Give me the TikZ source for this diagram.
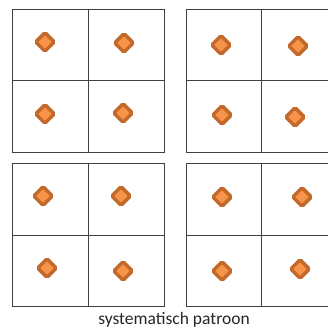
\documentclass[tikz,border=0pt]{standalone}
\usepackage{fontspec}
\setmainfont{Carlito}
\usetikzlibrary{shapes.geometric}
\definecolor{ruitrand}{HTML}{C3692C}
\definecolor{ruitvul}{HTML}{F7944A}
\tikzset{
  vak/.style         = {draw=black!75, line width=0.9pt},
  ruit/.style        = {diamond, draw=ruitrand, fill=ruitvul, line width=3.5pt,
                        rounded corners=1.5pt, inner sep=0pt,
                        minimum width=20pt, minimum height=20pt},
  onderschrift/.style = {font=\fontsize{17.5}{20}\selectfont, text=black!85, inner sep=0pt},
}
\begin{document}
\begin{tikzpicture}[x=1pt,y=-1pt]
  \useasboundingbox (0,0) rectangle (328,328);
  % vier rasters van 2x2 vakken
  \draw[vak] (12,9) rectangle (164,152);
  \draw[vak] (88,9) -- (88,152);
  \draw[vak] (12,80) -- (164,80);
  \draw[vak] (186,9) rectangle (338,152);
  \draw[vak] (261,9) -- (261,152);
  \draw[vak] (186,80) -- (338,80);
  \draw[vak] (12,163) rectangle (164,306);
  \draw[vak] (88,163) -- (88,306);
  \draw[vak] (12,235) -- (164,235);
  \draw[vak] (186,163) rectangle (338,306);
  \draw[vak] (261,163) -- (261,306);
  \draw[vak] (186,235) -- (338,235);

  % ruiten, steeds bijna in het midden van een vak
  \node[ruit] (lb1) at (45,42)   {};
  \node[ruit] (lb2) at (124,43)  {};
  \node[ruit] (lb3) at (45,114)  {};
  \node[ruit] (lb4) at (123,113) {};
  \node[ruit] (rb1) at (221,45)  {};
  \node[ruit] (rb2) at (298,46)  {};
  \node[ruit] (rb3) at (222,115) {};
  \node[ruit] (rb4) at (295,117) {};
  \node[ruit] (lo1) at (43,196)  {};
  \node[ruit] (lo2) at (121,196) {};
  \node[ruit] (lo3) at (47,268)  {};
  \node[ruit] (lo4) at (123,271) {};
  \node[ruit] (ro1) at (222,197) {};
  \node[ruit] (ro2) at (302,197) {};
  \node[ruit] (ro3) at (222,271) {};
  \node[ruit] (ro4) at (300,269) {};

  \node[onderschrift] (titel) at (174,320) {systematisch patroon};
\end{tikzpicture}
\end{document}
